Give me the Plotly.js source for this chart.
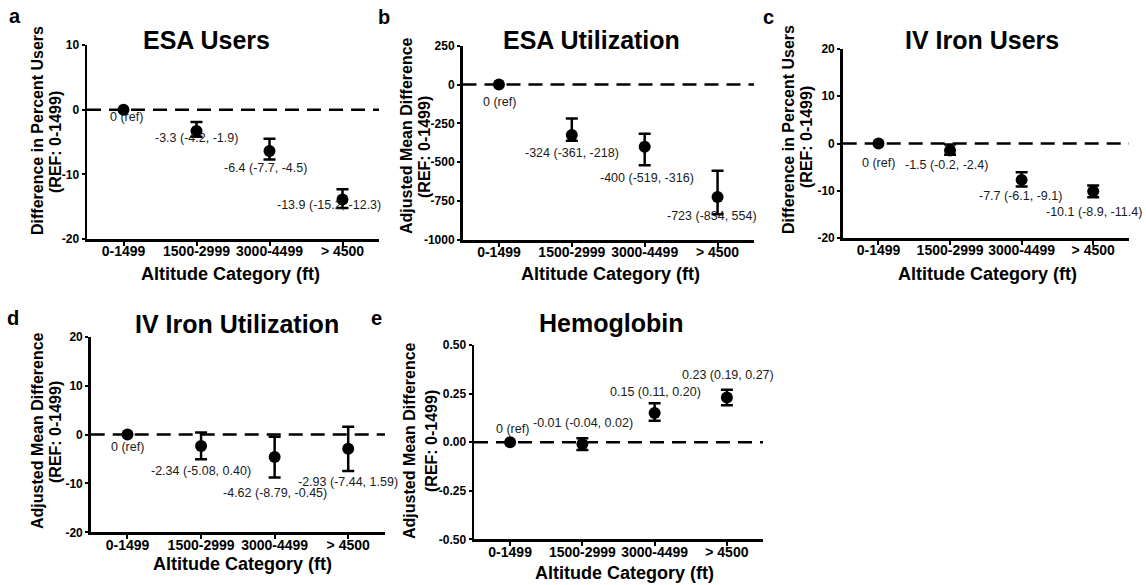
<!DOCTYPE html>
<html><head><meta charset="utf-8">
<script src="https://cdn.plot.ly/plotly-3.0.1.min.js"></script>
<style>html,body{margin:0;padding:0;background:#fff}#chart{width:1146px;height:585px}</style>
</head><body><div id="chart"></div>
<script>
// ---------------- DATA ----------------
const categories = ["0-1499", "1500-2999", "3000-4499", "> 4500"];

const esaUsersValue = [0, -3.3, -6.4, -13.9];
const esaUsersLower = [0, -4.2, -7.7, -15.2];
const esaUsersUpper = [0, -1.9, -4.5, -12.3];
const esaUsersLabels = ["0 (ref)", "-3.3 (-4.2, -1.9)", "-6.4 (-7.7, -4.5)", "-13.9 (-15.2, -12.3)"];
const esaUsersTicks = [-20, -10, 0, 10];

const esaUtilValue = [0, -324, -400, -723];
const esaUtilLower = [0, -361, -519, -834];
const esaUtilUpper = [0, -218, -316, -554];
const esaUtilLabels = ["0 (ref)", "-324 (-361, -218)", "-400 (-519, -316)", "-723 (-834, 554)"];
const esaUtilTicks = [-1000, -750, -500, -250, 0, 250];

const ivUsersValue = [0, -1.5, -7.7, -10.1];
const ivUsersLower = [0, -2.4, -9.1, -11.4];
const ivUsersUpper = [0, -0.2, -6.1, -8.9];
const ivUsersLabels = ["0 (ref)", "-1.5 (-0.2, -2.4)", "-7.7 (-6.1, -9.1)", "-10.1 (-8.9, -11.4)"];
const ivUsersTicks = [-20, -10, 0, 10, 20];

const ivUtilValue = [0, -2.34, -4.62, -2.93];
const ivUtilLower = [0, -5.08, -8.79, -7.44];
const ivUtilUpper = [0, 0.40, -0.45, 1.59];
const ivUtilLabels = ["0 (ref)", "-2.34 (-5.08, 0.40)", "-4.62 (-8.79, -0.45)", "-2.93 (-7.44, 1.59)"];
const ivUtilTicks = [-20, -10, 0, 10, 20];

const hgbValue = [0, -0.01, 0.15, 0.23];
const hgbLower = [0, -0.04, 0.11, 0.19];
const hgbUpper = [0, 0.02, 0.20, 0.27];
const hgbLabels = ["0 (ref)", "-0.01 (-0.04, 0.02)", "0.15 (0.11, 0.20)", "0.23 (0.19, 0.27)"];
const hgbTicks = [-0.50, -0.25, 0.00, 0.25, 0.50];

const xAxisTitle = "Altitude Category (ft)";
const refLine = "(REF: 0-1499)";

// ---------------- LAYOUT / STYLE ----------------
const W = 1146, H = 585;
const FONT = "Liberation Sans, Arial, Helvetica, sans-serif";
const px = v => v / W;
const py = v => 1 - v / H;

const panels = [
  {letter: "a", title: "ESA Users", ytitle: "Difference in Percent Users",
   value: esaUsersValue, lower: esaUsersLower, upper: esaUsersUpper, labels: esaUsersLabels,
   ticks: esaUsersTicks, dec: 0, range: [-20, 10],
   box: [87, 379, 45, 239], letterPos: [15, 16], titlePos: [206, 40.5],
   yt1: [37, 131], yt2: [55, 142], xt: [230, 274],
   off: [[3, 7], [0, 7], [-4, 17], [-14, 5]]},
  {letter: "b", title: "ESA Utilization", ytitle: "Adjusted Mean Difference",
   value: esaUtilValue, lower: esaUtilLower, upper: esaUtilUpper, labels: esaUtilLabels,
   ticks: esaUtilTicks, dec: 0, range: [-1000, 250],
   box: [462.5, 754, 45.7, 240], letterPos: [384, 17], titlePos: [591, 40],
   yt1: [406, 136], yt2: [424, 147], xt: [610, 274],
   off: [[1, 17], [0, 18], [2, 31], [-6, 19]]},
  {letter: "c", title: "IV Iron Users", ytitle: "Difference in Percent Users",
   value: ivUsersValue, lower: ivUsersLower, upper: ivUsersUpper, labels: ivUsersLabels,
   ticks: ivUsersTicks, dec: 0, range: [-20, 20],
   box: [842.7, 1129, 49, 238], letterPos: [768, 17], titlePos: [982, 40.5],
   yt1: [788, 130], yt2: [806, 137], xt: [987, 274],
   off: [[0, 19], [-4, 14], [-1, 16], [1, 21]]},
  {letter: "d", title: "IV Iron Utilization", ytitle: "Adjusted Mean Difference",
   value: ivUtilValue, lower: ivUtilLower, upper: ivUtilUpper, labels: ivUtilLabels,
   ticks: ivUtilTicks, dec: 0, range: [-20, 20],
   box: [90.7, 385, 336.7, 532.3], letterPos: [12.5, 318], titlePos: [237, 323.5],
   yt1: [37, 431], yt2: [55, 432], xt: [242, 563.5],
   off: [[0, 13], [0, 25], [0, 36], [0, 33]]},
  {letter: "e", title: "Hemoglobin", ytitle: "Adjusted Mean Difference",
   value: hgbValue, lower: hgbLower, upper: hgbUpper, labels: hgbLabels,
   ticks: hgbTicks, dec: 2, range: [-0.5, 0.5],
   box: [474, 763, 345, 539.3], letterPos: [376.5, 318], titlePos: [611, 322.5],
   yt1: [409, 441], yt2: [431, 441], xt: [624, 572.5],
   off: [[2, -13], [1, -21], [1, -21], [1, -22]]}
];

const data = [];
const layout = {
  width: W, height: H,
  margin: {l: 0, r: 0, t: 0, b: 0},
  paper_bgcolor: "#ffffff", plot_bgcolor: "rgba(0,0,0,0)",
  showlegend: false,
  font: {family: FONT, color: "#000"},
  annotations: [], shapes: []
};

function ann(text, x, y, size, bold, extra) {
  return Object.assign({
    text: text, x: px(x), y: py(y), xref: "paper", yref: "paper",
    xanchor: "center", yanchor: "middle", showarrow: false,
    font: {family: FONT, size: size, color: "#000", weight: bold ? "bold" : "normal"}
  }, extra || {});
}

panels.forEach((p, i) => {
  const n = i === 0 ? "" : String(i + 1);
  const xa = "x" + n, ya = "y" + n;
  const [x0, x1, yTop, yBot] = p.box;

  const plus = p.value.map((v, k) => (p.upper[k] === v && p.lower[k] === v) ? NaN : p.upper[k] - v);
  const minus = p.value.map((v, k) => (p.upper[k] === v && p.lower[k] === v) ? NaN : v - p.lower[k]);

  data.push({
    type: "scatter", mode: "markers", x: categories, y: p.value,
    xaxis: xa, yaxis: ya, hoverinfo: "x+y",
    marker: {color: "#000", size: 12},
    error_y: {type: "data", symmetric: false, array: plus, arrayminus: minus,
              color: "#000", thickness: 2.5, width: 6}
  });

  layout["xaxis" + n] = {
    domain: [px(x0), px(x1)], anchor: ya, type: "category",
    categoryorder: "array", categoryarray: categories,
    range: [-0.5, 3.5], showgrid: false, zeroline: false,
    showline: true, linecolor: "#000", linewidth: 2.5,
    ticks: "outside", ticklen: 4, tickwidth: 2, tickcolor: "#000",
    ticklabelstandoff: -6,
    tickfont: {family: FONT, size: 14, weight: "bold", color: "#000"},
    fixedrange: true
  };
  layout["yaxis" + n] = {
    domain: [py(yBot), py(yTop)], anchor: xa, range: p.range,
    tickvals: p.ticks, ticktext: p.ticks.map(t => t.toFixed(p.dec)),
    showgrid: false, zeroline: false,
    showline: true, linecolor: "#000", linewidth: 2.5,
    ticks: "outside", ticklen: 3, tickwidth: 2, tickcolor: "#000",
    tickfont: {family: FONT, size: 12, weight: "bold", color: "#000"},
    fixedrange: true
  };

  layout.shapes.push({
    type: "line", xref: xa + " domain", yref: ya, x0: 0, x1: 1, y0: 0, y1: 0,
    line: {color: "#000", width: 2.5, dash: "14px,8px"}, layer: "below"
  });

  p.labels.forEach((t, k) => {
    layout.annotations.push({
      text: t, xref: xa, yref: ya, x: k, y: p.value[k],
      xshift: p.off[k][0], yshift: -p.off[k][1],
      xanchor: "center", yanchor: "middle", showarrow: false,
      font: {family: FONT, size: 12.5, color: "#1a1a1a"}
    });
  });

  layout.annotations.push(ann(p.letter, p.letterPos[0], p.letterPos[1], 20, true));
  layout.annotations.push(ann(p.title, p.titlePos[0], p.titlePos[1], 25, true));
  layout.annotations.push(ann(p.ytitle, p.yt1[0], p.yt1[1], 16, true, {textangle: -90}));
  layout.annotations.push(ann(refLine, p.yt2[0], p.yt2[1], 16, true, {textangle: -90}));
  layout.annotations.push(ann(xAxisTitle, p.xt[0], p.xt[1], 18, true));
});

Plotly.newPlot("chart", data, layout, {displayModeBar: false, staticPlot: true});
</script>
</body></html>
